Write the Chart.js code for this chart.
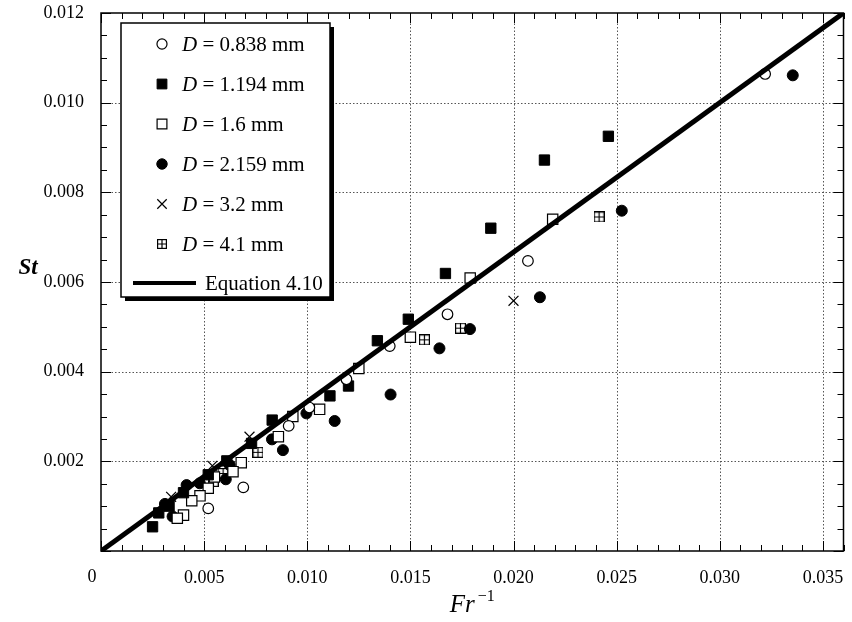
<!DOCTYPE html>
<html>
<head>
<meta charset="utf-8">
<script src="https://cdn.jsdelivr.net/npm/chart.js@4"></script>
<style>
html,body{margin:0;padding:0;background:#fff;}
#wrap{width:852px;height:622px;position:relative;}
</style>
</head>
<body>
<div id="wrap"><canvas id="c" width="852" height="622"></canvas></div>
<script>
// ---- Data ----
const xTickValues = [0, 0.005, 0.010, 0.015, 0.020, 0.025, 0.030, 0.035];
const yTickValues = [0.002, 0.004, 0.006, 0.008, 0.010, 0.012];

const d0838X = [0.0322, 0.0207, 0.0168, 0.0140, 0.0119, 0.0101, 0.0091, 0.0069, 0.0052];
const d0838Y = [0.01064, 0.00647, 0.00528, 0.00457, 0.00383, 0.00320, 0.00279, 0.00142, 0.00095];

const d1194X = [0.0246, 0.0215, 0.0189, 0.0167, 0.0149, 0.0134, 0.0120, 0.0111, 0.0083, 0.0061, 0.0025, 0.0028, 0.0033, 0.0040, 0.0052, 0.0073];
const d1194Y = [0.00925, 0.00872, 0.00720, 0.00619, 0.00517, 0.00469, 0.00368, 0.00346, 0.00292, 0.00201, 0.00054, 0.00085, 0.00100, 0.00130, 0.00170, 0.00240];

const d16X = [0.0219, 0.0179, 0.0150, 0.0125, 0.0106, 0.0093, 0.0086, 0.0068, 0.0064, 0.0052, 0.0048, 0.0044, 0.0040, 0.0037, 0.0055];
const d16Y = [0.00740, 0.00609, 0.00477, 0.00407, 0.00316, 0.00300, 0.00255, 0.00197, 0.00177, 0.00140, 0.00123, 0.00112, 0.00080, 0.00073, 0.00165];

const d2159X = [0.03354, 0.02525, 0.02128, 0.01789, 0.01641, 0.01404, 0.01133, 0.00996, 0.00882, 0.00829, 0.00605, 0.00624, 0.00479, 0.00415, 0.00310, 0.00347];
const d2159Y = [0.01061, 0.00759, 0.00566, 0.00495, 0.00452, 0.00349, 0.00290, 0.00307, 0.00225, 0.00249, 0.00160, 0.00192, 0.00151, 0.00147, 0.00105, 0.00077];

const d32X = [0.0200, 0.0072, 0.0054, 0.0034];
const d32Y = [0.00558, 0.00255, 0.00190, 0.00121];

const d41X = [0.02415, 0.01743, 0.01568, 0.00761, 0.00592, 0.00544];
const d41Y = [0.00745, 0.00497, 0.00471, 0.00220, 0.00173, 0.00155];

const eqX = [0, 0.036];
const eqY = [0, 0.012];

const seriesLabels = ['0.838', '1.194', '1.6', '2.159', '3.2', '4.1'];

// ---- helpers ----
const pts = (xs, ys) => xs.map((x, i) => ({x: x, y: ys[i]}));

function makeGridSquare(size) {
  const c = document.createElement('canvas');
  c.width = size; c.height = size;
  const g = c.getContext('2d');
  g.fillStyle = '#fff';
  g.fillRect(0, 0, size, size);
  g.strokeStyle = '#000';
  g.lineWidth = 1.2;
  g.strokeRect(0.6, 0.6, size - 1.2, size - 1.2);
  g.beginPath();
  g.moveTo(size / 2, 0); g.lineTo(size / 2, size);
  g.moveTo(0, size / 2); g.lineTo(size, size / 2);
  g.stroke();
  return c;
}
const gridSq = makeGridSquare(11);
const gridSqLegend = makeGridSquare(10);

const FONT = '"Liberation Serif", "Times New Roman", serif';
const TICK_SIZE = 18;

const markerDefs = [
  {pointStyle: 'circle', radius: 5.3, bg: '#fff', border: '#000', bw: 1.2},
  {pointStyle: 'rect', radius: 7.3, bg: '#000', border: '#000', bw: 1},
  {pointStyle: 'rect', radius: 7.3, bg: '#fff', border: '#000', bw: 1.2},
  {pointStyle: 'circle', radius: 5.5, bg: '#000', border: '#000', bw: 1},
  {pointStyle: 'crossRot', radius: 7, bg: '#000', border: '#000', bw: 1.2},
  {pointStyle: gridSq, radius: 6, bg: '#fff', border: '#000', bw: 1}
];

const seriesData = [
  pts(d0838X, d0838Y), pts(d1194X, d1194Y), pts(d16X, d16Y),
  pts(d2159X, d2159Y), pts(d32X, d32Y), pts(d41X, d41Y)
];

const datasets = seriesData.map((d, i) => ({
  type: 'scatter',
  label: 'D = ' + seriesLabels[i] + ' mm',
  data: d,
  pointStyle: markerDefs[i].pointStyle,
  pointRadius: markerDefs[i].radius,
  pointBackgroundColor: markerDefs[i].bg,
  pointBorderColor: markerDefs[i].border,
  pointBorderWidth: markerDefs[i].bw,
  showLine: false,
  order: 1,
  clip: false
}));

datasets.push({
  type: 'scatter',
  label: 'Equation 4.10',
  data: pts(eqX, eqY),
  showLine: true,
  borderColor: '#000',
  borderWidth: 5,
  pointRadius: 0,
  order: 0
});

// ---- custom drawing plugin ----
const decor = {
  id: 'decor',
  beforeDatasetsDraw(chart) {
    const ctx = chart.ctx, a = chart.chartArea;
    const xs = chart.scales.x, ys = chart.scales.y;
    ctx.save();
    ctx.strokeStyle = '#555';
    ctx.lineWidth = 1;
    ctx.setLineDash([1.5, 2]);
    xTickValues.forEach(v => {
      if (v <= 0) return;
      const px = Math.round(xs.getPixelForValue(v)) + 0.5;
      ctx.beginPath(); ctx.moveTo(px, a.top); ctx.lineTo(px, a.bottom); ctx.stroke();
    });
    yTickValues.forEach(v => {
      if (v >= 0.012) return;
      const py = Math.round(ys.getPixelForValue(v)) + 0.5;
      ctx.beginPath(); ctx.moveTo(a.left, py); ctx.lineTo(a.right, py); ctx.stroke();
    });
    ctx.restore();
  },
  afterDatasetsDraw(chart) {
    const ctx = chart.ctx, a = chart.chartArea;
    const xs = chart.scales.x, ys = chart.scales.y;
    ctx.save();
    ctx.strokeStyle = '#000';
    ctx.setLineDash([]);
    // inward ticks
    ctx.lineWidth = 1;
    for (let i = 0; i <= 36; i++) {
      const px = Math.round(xs.getPixelForValue(i * 0.001)) + 0.5;
      const len = (i % 5 === 0) ? 10 : 6;
      ctx.beginPath();
      ctx.moveTo(px, a.bottom); ctx.lineTo(px, a.bottom - len);
      ctx.moveTo(px, a.top); ctx.lineTo(px, a.top + len);
      ctx.stroke();
    }
    for (let j = 0; j <= 24; j++) {
      const py = Math.round(ys.getPixelForValue(j * 0.0005)) + 0.5;
      const len = (j % 4 === 0) ? 10 : 6;
      ctx.beginPath();
      ctx.moveTo(a.left, py); ctx.lineTo(a.left + len, py);
      ctx.moveTo(a.right, py); ctx.lineTo(a.right - len, py);
      ctx.stroke();
    }
    // frame
    ctx.lineWidth = 1.5;
    ctx.strokeRect(a.left, a.top, a.right - a.left, a.bottom - a.top);

    // origin label "0" (set slightly left of the corner, as in the reference)
    ctx.fillStyle = '#000';
    ctx.font = TICK_SIZE + 'px ' + FONT;
    ctx.textAlign = 'center';
    ctx.textBaseline = 'middle';
    ctx.fillText('0', a.left - 9, 577);

    // legend box with shadow
    const L = 121, T = 23, R = 330, B = 297;
    ctx.fillStyle = '#000';
    ctx.fillRect(L + 4, T + 4, R - L, B - T);
    ctx.fillStyle = '#fff';
    ctx.fillRect(L, T, R - L, B - T);
    ctx.lineWidth = 1.5;
    ctx.strokeRect(L, T, R - L, B - T);

    const rowsY = [44, 84, 124, 164, 204, 244, 283];
    const mx = 162, tx = 182;
    ctx.textBaseline = 'middle';
    for (let i = 0; i < 6; i++) {
      const m = markerDefs[i];
      ctx.fillStyle = m.bg; ctx.strokeStyle = m.border; ctx.lineWidth = m.bw;
      const style = (i === 5) ? gridSqLegend : m.pointStyle;
      Chart.helpers.drawPoint(ctx, {pointStyle: style, radius: m.radius * 0.95, borderWidth: m.bw, rotation: 0}, mx, rowsY[i]);
      ctx.fillStyle = '#000';
      ctx.font = 'italic 21px ' + FONT;
      ctx.textAlign = 'left';
      ctx.fillText('D', tx, rowsY[i] + 1);
      const w = ctx.measureText('D').width;
      ctx.font = '21px ' + FONT;
      ctx.fillText(' = ' + seriesLabels[i] + ' mm', tx + w, rowsY[i] + 1);
    }
    ctx.strokeStyle = '#000';
    ctx.lineWidth = 4;
    ctx.beginPath(); ctx.moveTo(133, rowsY[6]); ctx.lineTo(196, rowsY[6]); ctx.stroke();
    ctx.fillStyle = '#000';
    ctx.font = '21px ' + FONT;
    ctx.fillText('Equation 4.10', 205, rowsY[6] + 1);

    // axis titles
    ctx.font = 'italic bold 23px ' + FONT;
    ctx.textAlign = 'center';
    ctx.fillText('St', 28, 268);
    ctx.textAlign = 'left';
    ctx.font = 'italic 25px ' + FONT;
    const fw = ctx.measureText('Fr').width;
    ctx.font = '16px ' + FONT;
    const sw = ctx.measureText('\u22121').width;
    const startX = (a.left + a.right) / 2 - (fw + sw + 3) / 2;
    ctx.font = 'italic 25px ' + FONT;
    ctx.textBaseline = 'alphabetic';
    ctx.fillText('Fr', startX, 612);
    ctx.font = '16px ' + FONT;
    ctx.fillText('\u22121', startX + fw + 3, 601);
    ctx.restore();
  }
};

new Chart(document.getElementById('c'), {
  type: 'scatter',
  data: {datasets: datasets},
  options: {
    responsive: false,
    animation: false,
    events: [],
    layout: {padding: {top: 13, right: 7, left: 0, bottom: 0}},
    plugins: {legend: {display: false}, tooltip: {enabled: false}},
    scales: {
      x: {
        type: 'linear', min: 0, max: 0.036,
        grid: {display: false}, border: {display: false},
        afterBuildTicks: s => { s.ticks = xTickValues.map(v => ({value: v})); },
        afterFit: s => { s.height = 71; s.paddingLeft = 0; s.paddingRight = 0; },
        ticks: {
          color: '#000', padding: 8, maxRotation: 0, autoSkip: false,
          font: {family: FONT, size: TICK_SIZE},
          callback: v => v === 0 ? '' : v.toFixed(3)
        }
      },
      y: {
        type: 'linear', min: 0, max: 0.012,
        grid: {display: false}, border: {display: false},
        afterBuildTicks: s => { s.ticks = yTickValues.map(v => ({value: v})); },
        afterFit: s => { s.width = 101; s.paddingTop = 0; s.paddingBottom = 0; },
        ticks: {
          color: '#000', padding: 9, autoSkip: false,
          font: {family: FONT, size: TICK_SIZE},
          callback: v => v.toFixed(3)
        }
      }
    }
  },
  plugins: [decor]
});
</script>
</body>
</html>
